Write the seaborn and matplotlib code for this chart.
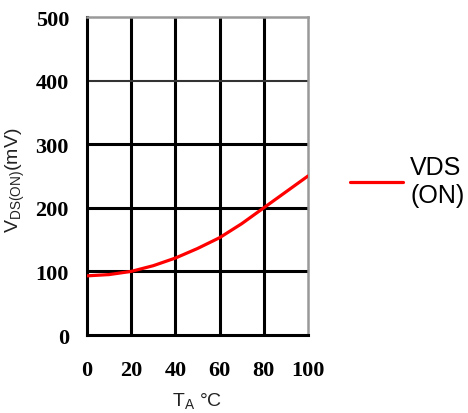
import matplotlib
matplotlib.use("Agg")
import matplotlib.pyplot as plt
import seaborn as sns
import pandas as pd

# Data
temp_c = [0, 10, 20, 30, 40, 50, 60, 70, 80, 90, 100]
vds_on_mv = [93, 95, 100, 109, 121, 136, 153, 175, 200, 225, 250]
x_ticks = [0, 20, 40, 60, 80, 100]
y_ticks = [0, 100, 200, 300, 400, 500]
series_label = "VDS\n(ON)"

sns.set_style("white")
plt.rcParams["font.family"] = ["Liberation Sans", "DejaVu Sans"]
plt.rcParams["text.color"] = "black"

df = pd.DataFrame({"T": temp_c, "V": vds_on_mv, "s": series_label})

fig = plt.figure(figsize=(4.68, 4.14), dpi=100)
ax = fig.add_axes([87/468, 1-336/414, 221/468, 318/414])

sns.lineplot(data=df, x="T", y="V", hue="s", palette=["#ff0000"], lw=2.3, ax=ax, zorder=5)

ax.set_xlim(0, 100)
ax.set_ylim(0, 500)
ax.set_xticks(x_ticks)
ax.set_yticks(y_ticks)
tick_font = dict(family=["Liberation Serif", "DejaVu Serif"], weight="bold", size=16, color="black")
ax.set_xticklabels([str(t) for t in x_ticks], **tick_font)
ax.set_yticklabels([str(t) for t in y_ticks], **tick_font)
ax.tick_params(axis="x", length=0, pad=18)
ax.tick_params(axis="y", length=0, pad=13)

ax.grid(True, color="black", lw=2.2)
ygl = ax.yaxis.get_gridlines()
ygl[4].set_color("#333333"); ygl[4].set_linewidth(1.5)
ygl[5].set_visible(False)
ax.xaxis.get_gridlines()[5].set_visible(False)
ax.xaxis.get_gridlines()[0].set_visible(False)
ygl[0].set_visible(False)

for side in ["left", "bottom"]:
    ax.spines[side].set_color("black"); ax.spines[side].set_linewidth(2.2)
for side in ["top", "right"]:
    ax.spines[side].set_color("#999999"); ax.spines[side].set_linewidth(1.8)

ax.set_xlabel(r"T$_\mathregular{A}$ °C", fontsize=14, color="#222222")
ax.xaxis.set_label_coords(0.5, -0.175)
ax.set_ylabel(r"V$_\mathregular{DS(ON)}$(mV)", fontsize=14, color="#222222")
ax.yaxis.set_label_coords(-0.27, 0.49)

leg = ax.legend(loc="center left", bbox_to_anchor=(350/468, 1-182/414),
                bbox_transform=fig.transFigure, frameon=False, fontsize=18,
                handlelength=2.1, handletextpad=0.3, borderpad=0, borderaxespad=0)
for line in leg.get_lines():
    line.set_linewidth(2.3)
for t in leg.get_texts():
    t.set_color("black")

fig.savefig("out.png", dpi=100)
